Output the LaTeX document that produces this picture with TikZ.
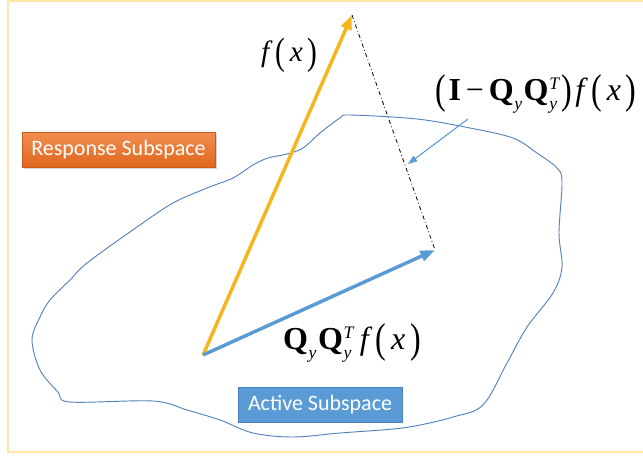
\documentclass[tikz,border=0pt]{standalone}
\usepackage{fontspec}
\setmainfont{Liberation Serif}
\newfontfamily\tnr{Liberation Serif}
\newfontfamily\calib{Carlito}
\usetikzlibrary{arrows.meta,shadows}
\definecolor{gold}{HTML}{F5B51E}
\definecolor{sblue}{HTML}{5B9BD5}
\definecolor{sblueB}{HTML}{4A83BE}
\definecolor{orangeA}{HTML}{F08E52}
\definecolor{orangeB}{HTML}{E0661C}
\definecolor{framec}{HTML}{FDE6A6}
\definecolor{blobc}{HTML}{5582BA}
\newsavebox\supbox
\newsavebox\subbox
\newcommand\subY{\raisebox{-0.28em}{\scalebox{0.55}{\itshape y}}}
\newcommand\supT{\raisebox{0.36em}{\scalebox{0.55}{\itshape T}}}
\newcommand\Qsub{{\bfseries Q}\hspace{0.02em}\subY}
\newcommand\Qsubsup{{\bfseries Q}\hspace{0.02em}%
  \sbox\supbox{\supT}\sbox\subbox{\subY}%
  \ifdim\wd\supbox>\wd\subbox
    \rlap{\usebox\subbox}\usebox\supbox
  \else
    \rlap{\usebox\supbox}\usebox\subbox
  \fi}
\newcommand\bigp[1]{\raisebox{-0.2ex}{\scalebox{1}[1.3]{#1}}}
\newcommand\fx{{\itshape f}\hspace{0.22em}\bigp{(}\hspace{0.15em}{\itshape x}\hspace{0.15em}\bigp{)}}
\tikzset{
  vec/.style={line width=2.6pt,-{Triangle[length=11pt,width=8pt]}},
  lab/.style={inner sep=0pt, font=\tnr\fontsize{24}{26}\selectfont},
  tag/.style={text=white, font=\calib\fontsize{16.5}{18}\selectfont, inner sep=0pt}
}
\begin{document}
\begin{tikzpicture}[x=0.75pt,y=-0.75pt]
\useasboundingbox (0,0) rectangle (643,455);
\draw[framec, line width=1.5pt] (8,0.8) rectangle (660,452);
% blob
\draw[blobc, line width=0.7pt] plot[smooth cycle, tension=0.55] coordinates {
 (350,115) (417,119) (470,128) (513,138) (537,153) (557,168) (562,182) (559,233) (562,267)
 (553,293) (527,327) (507,363) (483,405) (453,417) (420,425) (393,429) (340,433)
 (293,437) (253,433) (220,420) (187,410) (153,401) (70,402) (58,392) (40,370)
 (32,340) (40,317) (50,300) (70,280) (87,263) (137,227) (173,203) (207,188)
 (233,178) (253,165) (268,158) (287,154) (303,148) (320,133) (340,118)};
% key points
\coordinate (O) at (203,355);
\coordinate (F) at (352,15);
\coordinate (P) at (435,250);
\draw[vec, gold] (O) -- (F);
\draw[vec, sblue] (O) -- (P);
\draw[black, line width=0.6pt, dash dot] (F) -- (P);
% labels
\node[lab, font=\tnr\fontsize{22}{24}\selectfont] (lf) at (289,55) {\fx};
\node[lab] (lr) at (536,94) {\bigp{(}\hspace{0.08em}{\bfseries I}\hspace{0.15em}−\hspace{0.15em}\Qsub\hspace{0.05em}\Qsubsup\hspace{0.08em}\bigp{)}\hspace{0.1em}\fx};
\node[lab] (lp) at (352,343) {\Qsub\hspace{0.05em}\Qsubsup\hspace{0.2em}\fx};
\coordinate (as) at (468,119);
\coordinate (ae) at (408,164);
\draw[sblue, line width=0.8pt, -{Triangle[length=7pt,width=5pt]}] (as) -- (ae);
% tags
\path[top color=orangeA, bottom color=orangeB, draw=orangeB!90!black, line width=0.3pt,
  drop shadow={opacity=0.35, shadow xshift=1.2pt, shadow yshift=-1.5pt}]
  (22,132) rectangle (215,167);
\node[tag] (rs) at (118.5,150) {Response Subspace};
\path[fill=sblue, draw=sblueB, line width=0.6pt] (238,387) rectangle (402,422);
\node[tag] (as2) at (320,405) {Active Subspace};
\end{tikzpicture}
\end{document}
